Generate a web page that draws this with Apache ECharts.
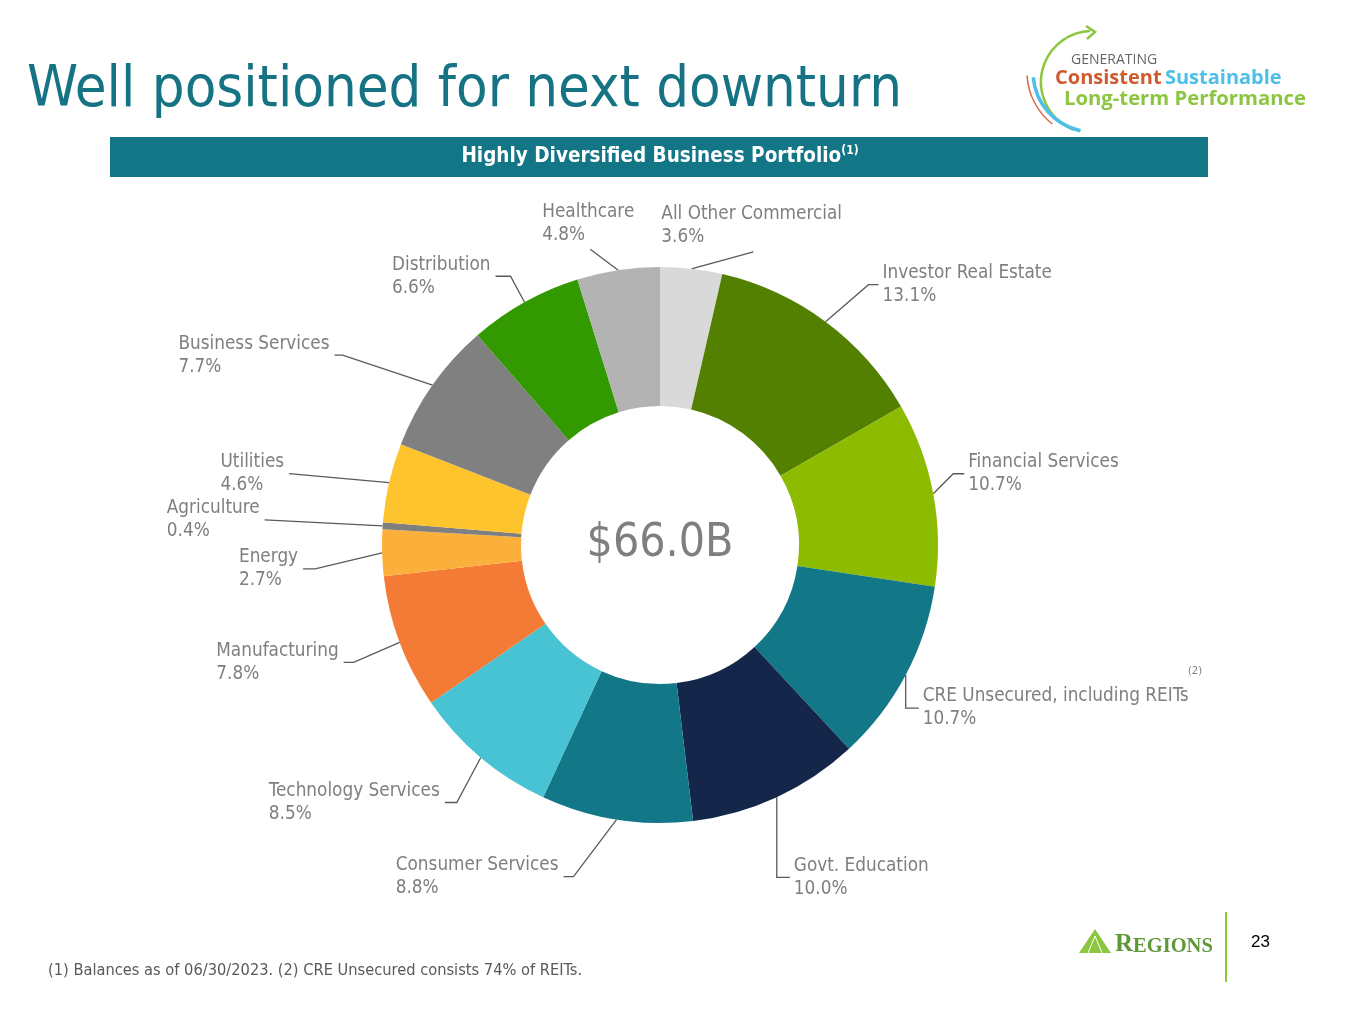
<!DOCTYPE html>
<html>
<head>
<meta charset="utf-8">
<title>Well positioned for next downturn</title>
<script src="https://cdn.jsdelivr.net/npm/echarts@6/dist/echarts.min.js"></script>
<style>
html, body {margin: 0; padding: 0; background: #fff;}
#slide {width: 1365px; height: 1024px;}
</style>
</head>
<body>
<div id="slide"></div>
<script>
// business portfolio mix, clockwise from 12 o'clock
var sectors = ['All Other Commercial', 'Investor Real Estate', 'Financial Services', 'CRE Unsecured, including REITs',
    'Govt. Education', 'Consumer Services', 'Technology Services', 'Manufacturing', 'Energy', 'Agriculture',
    'Utilities', 'Business Services', 'Distribution', 'Healthcare'];
var shares = [3.6, 13.1, 10.7, 10.7, 10.0, 8.8, 8.5, 7.8, 2.7, 0.4, 4.6, 7.7, 6.6, 4.8];
var totalBalance = '$66.0B';

var sliceColors = ['#d9d9d9', '#538000', '#8cbb00', '#127787', '#14274a', '#127787', '#48c3d3',
    '#f47b36', '#fbb03b', '#7f7f7f', '#fec42e', '#808080', '#339900', '#b3b3b3'];

// leader lines: [dx, dy, tail] from the slice edge, optional text offset from line end
var guides = [
    [62, -17, 0, -92, -26],
    [43, -37, 10],
    [20, -20, 11],
    [0, 33, 13],
    [0, 80, 13],
    [-43, 57, -10],
    [-24, 45, -12],
    [-46, 20, -10],
    [-67, 16, -12],
    [-118, -6, 0],
    [-100, -9, 0],
    [-90, -30, -8],
    [-14, -26, -15],
    [-28, -21, 0, -48, -26]
];

var font = 'DejaVu Sans Condensed';
var chart = echarts.init(document.getElementById('slide'));

chart.setOption({
    animation: false,
    backgroundColor: '#fff',
    graphic: [
        {type: 'text', left: 27, top: 62, style: {text: 'Well positioned for next downturn', fill: '#157383', font: '57.5px "' + font + '"'}},
        // top right badge
        {type: 'arc', shape: {cx: 1092, cy: 82, r: 51, startAngle: 111 * Math.PI / 180, endAngle: 268 * Math.PI / 180, clockwise: true},
            style: {stroke: '#8cc63f', lineWidth: 2.5, fill: null}},
        {type: 'polyline', shape: {points: [[1086, 26], [1095, 32], [1087, 39]]}, style: {stroke: '#8cc63f', lineWidth: 2.5, fill: null}},
        {type: 'arc', shape: {cx: 1093, cy: 72, r: 60, startAngle: 102 * Math.PI / 180, endAngle: 175 * Math.PI / 180, clockwise: true},
            style: {stroke: '#4dbfe8', lineWidth: 3.5, fill: null}},
        {type: 'arc', shape: {cx: 1093, cy: 72, r: 66, startAngle: 128 * Math.PI / 180, endAngle: 177 * Math.PI / 180, clockwise: true},
            style: {stroke: '#d66a4a', lineWidth: 1.5, fill: null}},
        {type: 'text', left: 1071, top: 53, style: {text: 'GENERATING', fill: '#666', font: '14px "Open Sans"'}},
        {type: 'text', left: 1055, top: 68, style: {text: '{a|Consistent} {b|Sustainable}',
            rich: {a: {fill: '#d0592e', font: 'bold 20px "Open Sans"'}, b: {fill: '#4dbfe8', font: 'bold 20px "Open Sans"'}}}},
        {type: 'text', left: 1064, top: 89, style: {text: 'Long-term Performance', fill: '#8cc63f', font: 'bold 20.3px "Open Sans"'}},
        // banner
        {type: 'rect', shape: {x: 110, y: 137, width: 1098, height: 40}, style: {fill: '#137686'}},
        {type: 'text', x: 660, y: 157, style: {text: '{t|Highly Diversified Business Portfolio}{s|(1)}', align: 'center', verticalAlign: 'middle',
            rich: {t: {fill: '#fff', font: 'bold 20.5px "' + font + '"', lineHeight: 24},
                s: {fill: '#fff', font: 'bold 12px "' + font + '"', verticalAlign: 'top', lineHeight: 13}}}},
        {type: 'text', x: 660, y: 544, style: {text: totalBalance, fill: '#7f7f7f', font: '46px "' + font + '"', align: 'center', verticalAlign: 'middle'}},
        {type: 'text', left: 1188, top: 666, style: {text: '(2)', fill: '#7f7f7f', font: '11px "' + font + '"'}},
        {type: 'text', left: 48, top: 963, style: {text: '(1) Balances as of 06/30/2023. (2) CRE Unsecured consists 74% of REITs.', fill: '#595959', font: '16.3px "' + font + '"'}},
        // footer logo
        {type: 'polygon', shape: {points: [[1079, 953], [1095, 929], [1111, 953]]}, style: {fill: '#8cc63f'}},
        {type: 'polyline', shape: {points: [[1088, 953], [1095, 936], [1102, 953]]}, style: {stroke: '#fff', lineWidth: 1, fill: null}},
        {type: 'text', left: 1115, top: 932, style: {text: '{r|R}{e|EGIONS}',
            rich: {r: {fill: '#5f9838', font: 'bold 25px "Liberation Serif"'}, e: {fill: '#5f9838', font: 'bold 20.5px "Liberation Serif"', verticalAlign: 'bottom'}}}},
        {type: 'line', shape: {x1: 1226, y1: 912, x2: 1226, y2: 982}, style: {stroke: '#8cc63f', lineWidth: 2}},
        {type: 'text', left: 1251, top: 934, style: {text: '23', fill: '#000', font: '17px "Liberation Sans"'}}
    ],
    series: [{
        type: 'pie',
        center: [660, 545],
        radius: [139, 278],
        startAngle: 90,
        clockwise: true,
        avoidLabelOverlap: false,
        silent: true,
        data: sectors.map(function (name, i) {
            return {name: name, value: shares[i], itemStyle: {color: sliceColors[i]}};
        }),
        label: {
            show: true,
            position: 'outside',
            overflow: 'none',
            color: '#7f7f7f',
            fontFamily: font,
            fontSize: 18.8,
            lineHeight: 23,
            align: 'left',
            formatter: function (p) {
                return p.name + '\n' + p.value.toFixed(1) + '%';
            }
        },
        labelLine: {show: true, length: 10, length2: 10, lineStyle: {color: '#595959', width: 1.3}},
        labelLayout: function (p) {
            var g = guides[p.dataIndex];
            var a = p.labelLinePoints[0];
            var start = [a[0], a[1]];
            var elbow = [start[0] + g[0], start[1] + g[1]];
            var end = [elbow[0] + g[2], elbow[1]];
            var x, y = end[1];
            if (g.length > 3) {
                x = end[0] + g[3];
                y = end[1] + g[4];
            } else if ((g[2] || g[0]) > 0) {
                x = end[0] + 4;
            } else {
                x = end[0] - 5 - p.labelRect.width;
            }
            return {x: x, y: y, align: 'left', verticalAlign: 'middle', labelLinePoints: [start, elbow, end]};
        }
    }]
});
</script>
</body>
</html>
